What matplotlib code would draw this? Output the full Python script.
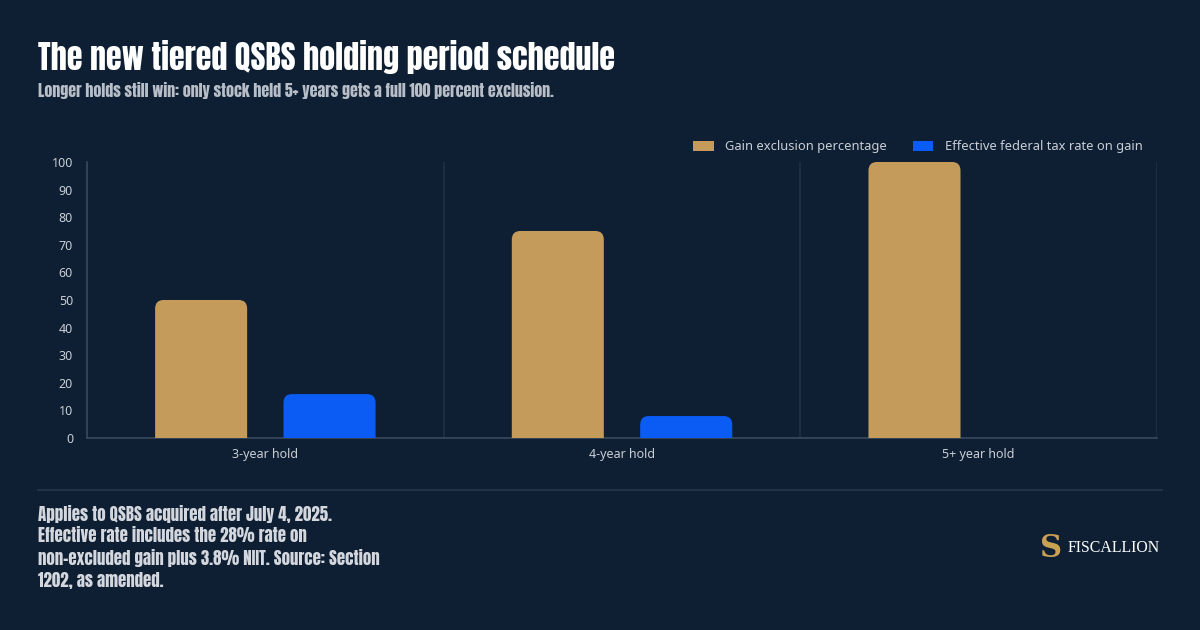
import matplotlib.pyplot as plt
from matplotlib.patches import FancyBboxPatch, Patch
from matplotlib import font_manager
import numpy as np

# chart data
categories = ['3-year hold', '4-year hold', '5+ year hold']
exclusion_pct = [50, 75, 100]
effective_rate = [15.9, 7.95, 0]
series_names = ['Gain exclusion percentage', 'Effective federal tax rate on gain']

title = 'The new tiered QSBS holding period schedule'
subtitle = 'Longer holds still win: only stock held 5+ years gets a full 100 percent exclusion.'
footnote = ('Applies to QSBS acquired after July 4, 2025.\n'
            'Effective rate includes the 28% rate on\n'
            'non-excluded gain plus 3.8% NIIT. Source: Section\n'
            '1202, as amended.')

bg = '#0e1f33'
gold = '#c49b5b'
blue = '#0a5cf5'
tick_col = '#c9ced6'

names = {f.name for f in font_manager.fontManager.ttflist}


def pick(*cands):
    for c in cands:
        if c in names:
            return c
    return 'DejaVu Sans'


cond = pick('Anton', 'Oswald', 'Bebas Neue', 'Roboto Condensed')
body = pick('Noto Sans', 'Open Sans')
serif = pick('Liberation Serif', 'DejaVu Serif')

fig = plt.figure(figsize=(12, 6.3), dpi=100, facecolor=bg)
ax = fig.add_axes([0.0725, 0.3048, 0.8917, 0.4381], facecolor=bg)

x = np.arange(len(categories))
w = 0.258
off = 0.18
ax.set_xlim(-0.5, 2.5)
ax.set_ylim(0, 100)


def rounded_bars(xs, vals, color):
    # rounded top corners, bottom pushed below the axis and clipped
    r = 0.024
    aspect = 129
    for xc, v in zip(xs, vals):
        if v <= 0:
            continue
        p = FancyBboxPatch((xc - w / 2, -5), w, v + 5,
                           boxstyle='round,pad=0,rounding_size=%f' % r,
                           mutation_aspect=aspect, facecolor=color,
                           edgecolor='none', zorder=3)
        ax.add_patch(p)


rounded_bars(x - off, exclusion_pct, gold)
rounded_bars(x + off, effective_rate, blue)

for xv in [0.5, 1.5, 2.5]:
    ax.axvline(xv, color='#1f3044', lw=1.2, zorder=1)

for s in ['top', 'right']:
    ax.spines[s].set_visible(False)
for s in ['left', 'bottom']:
    ax.spines[s].set_color('#3a4a5e')
    ax.spines[s].set_linewidth(1.2)

ax.set_xticks(x)
ax.set_xticklabels(categories, fontsize=9, color=tick_col, family=body)
ax.set_yticks(range(0, 101, 10))
ax.set_yticklabels([str(v) for v in range(0, 101, 10)], fontsize=9,
                   color=tick_col, family=body)
ax.tick_params(length=0, pad=10)
ax.tick_params(axis='x', pad=7)

handles = [Patch(facecolor=gold, edgecolor='none'), Patch(facecolor=blue, edgecolor='none')]
leg = fig.legend(handles, series_names, loc='center right', bbox_to_anchor=(0.962, 0.767),
                 ncol=2, frameon=False, handlelength=1.6, handleheight=0.85,
                 columnspacing=2.0, handletextpad=0.9,
                 prop={'family': body, 'size': 9.3})
for t in leg.get_texts():
    t.set_color(tick_col)

fig.text(0.032, 0.910, title, color='white', fontsize=23,
         family=cond, va='center')
fig.text(0.032, 0.857, subtitle, color='#b8bec8', fontsize=11.5,
         family=cond, va='center')

fig.add_artist(plt.Line2D([0.032, 0.968], [0.222, 0.222], color='#233346', lw=1.5))

fig.text(0.032, 0.199, footnote, color='#d4d8de', fontsize=12.2,
         family=cond, va='top', linespacing=1.31)

# logo
fig.text(0.876, 0.130, 'S', color='#c9a054', fontsize=22, fontweight='bold',
         family='DejaVu Serif', va='center', ha='center')
fig.text(0.890, 0.130, 'FISCALLION', color='white', fontsize=11.4,
         family=serif, va='center')

fig.savefig('out.png', dpi=100, facecolor=bg)
